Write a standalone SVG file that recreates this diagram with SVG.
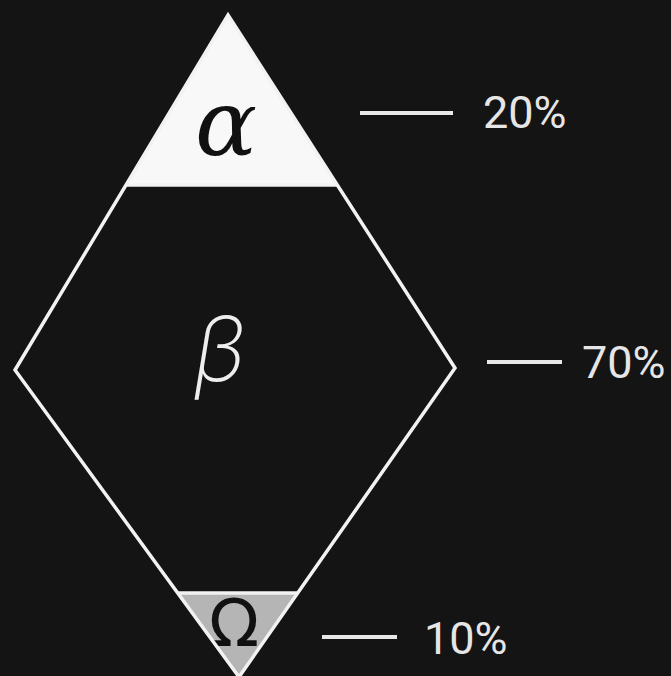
<svg xmlns="http://www.w3.org/2000/svg" width="671" height="676" viewBox="0 0 671 676">
<style>
.edge{fill:none;stroke:#f2f2f2;stroke-width:3.5;stroke-linejoin:miter}
.tick{stroke:#e8e8e8;stroke-width:4;stroke-linecap:butt}
.pct{font-family:Roboto,"Liberation Sans",sans-serif;font-size:45px;fill:#e6e6e6}
</style>
<rect width="671" height="676" fill="#141414"/>
<g id="alpha">
<polygon points="228,15 126,185 337,185" fill="#f8f8f8"/>
<text x="226" y="155" text-anchor="middle" font-family="'DejaVu Serif',serif" font-style="italic" font-size="92" fill="#111">α</text>
</g>
<g id="beta">
<polygon points="126,185 337,185 455,368 298,593 178,593 15,370" fill="#141414"/>
<text x="220" y="381" text-anchor="middle" font-family="Inter,'DejaVu Sans',sans-serif" font-style="italic" font-weight="200" font-size="90" fill="#eeeeee">β</text>
</g>
<g id="omega">
<polygon points="178,593 298,593 239,677" fill="#b5b5b5"/>
<text x="234" y="646" text-anchor="middle" font-family="'DejaVu Sans',sans-serif" font-size="66" fill="#111">Ω</text>
</g>
<g id="outline">
<polygon class="edge" points="228,15 455,368 239,677 15,370"/>
<line class="edge" x1="126" y1="185" x2="337" y2="185"/>
<line class="edge" x1="178" y1="593" x2="298" y2="593"/>
</g>
<g id="connectors">
<line class="tick" x1="360" y1="113" x2="453" y2="113"/>
<line class="tick" x1="487" y1="362" x2="562" y2="362"/>
<line class="tick" x1="322" y1="637" x2="397" y2="637"/>
</g>
<g id="labels">
<text class="pct" x="483" y="128">20%</text>
<text class="pct" x="582" y="378">70%</text>
<text class="pct" x="424" y="654">10%</text>
</g>
</svg>
